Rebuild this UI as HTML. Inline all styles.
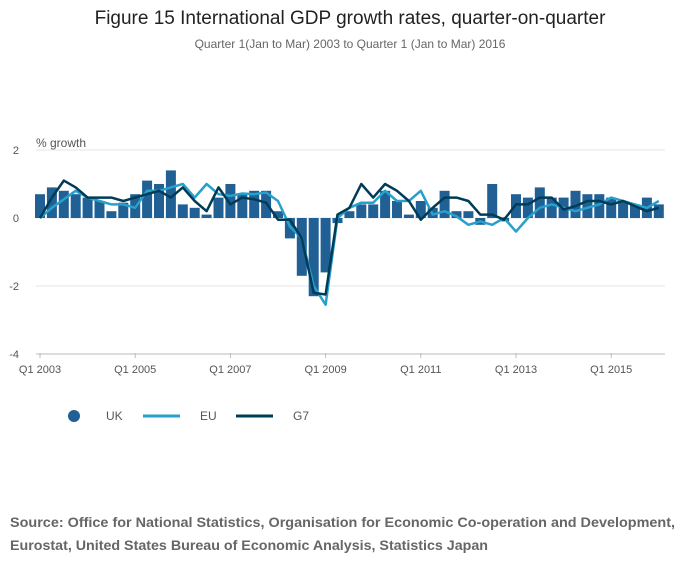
<!DOCTYPE html>
<html><head><meta charset="utf-8"><style>
body{margin:0;width:700px;height:574px;background:#fff;font-family:"Liberation Sans",sans-serif;overflow:hidden}
svg text{font-family:"Liberation Sans",sans-serif}
</style></head><body>
<svg width="700" height="574">
<text x="350" y="24" text-anchor="middle" font-size="19" fill="#222">Figure 15 International GDP growth rates, quarter-on-quarter</text>
<text x="350" y="48" text-anchor="middle" font-size="12" fill="#666">Quarter 1(Jan to Mar) 2003 to Quarter 1 (Jan to Mar) 2016</text>
<text x="36" y="147" font-size="12" fill="#555">% growth</text>
<g id="grid"></g><g id="bars"></g><g id="lines"></g><g id="xaxis"></g>
<g>
<circle cx="74" cy="416" r="6" fill="#206095"/>
<text x="106" y="420" font-size="12" fill="#555">UK</text>
<line x1="143" y1="416" x2="180" y2="416" stroke="#27a0cc" stroke-width="3"/>
<text x="200" y="420" font-size="12" fill="#555">EU</text>
<line x1="236" y1="416" x2="273" y2="416" stroke="#003c57" stroke-width="3"/>
<text x="293" y="420" font-size="12" fill="#555">G7</text>
</g>
<text x="10" y="527" font-size="14" font-weight="bold" fill="#666" textLength="665" lengthAdjust="spacingAndGlyphs">Source: Office for National Statistics, Organisation for Economic Co-operation and Development,</text>
<text x="10" y="550" font-size="14" font-weight="bold" fill="#666" textLength="478" lengthAdjust="spacingAndGlyphs">Eurostat, United States Bureau of Economic Analysis, Statistics Japan</text>
</svg>
<script>
const uk=[0.7,0.9,0.8,0.7,0.6,0.5,0.2,0.45,0.7,1.1,1.0,1.4,0.4,0.3,0.1,0.6,1.0,0.7,0.8,0.8,0.2,-0.6,-1.7,-2.3,-1.6,-0.15,0.2,0.4,0.4,0.8,0.5,0.1,0.5,0.3,0.8,0.2,0.2,-0.2,1.0,-0.1,0.7,0.6,0.9,0.6,0.6,0.8,0.7,0.7,0.6,0.5,0.4,0.6,0.4];
const eu=[0,0.3,0.55,0.8,0.6,0.5,0.4,0.4,0.3,0.8,0.8,0.9,1.0,0.6,1.0,0.7,0.65,0.72,0.7,0.75,0.5,-0.25,-0.6,-2.0,-2.55,0.0,0.3,0.45,0.45,0.8,0.5,0.5,0.8,0.1,0.2,0.05,-0.2,-0.1,-0.2,0.0,-0.4,0.0,0.3,0.4,0.3,0.2,0.3,0.4,0.6,0.5,0.4,0.3,0.5];
const g7=[0.0,0.6,1.1,0.9,0.6,0.6,0.6,0.5,0.6,0.7,0.8,0.6,0.9,0.5,0.2,0.9,0.4,0.6,0.55,0.45,-0.05,-0.05,-0.6,-2.2,-2.25,0.1,0.3,1.0,0.6,1.0,0.8,0.5,-0.05,0.3,0.6,0.6,0.5,0.1,0.1,-0.05,0.4,0.4,0.6,0.6,0.25,0.35,0.5,0.5,0.4,0.5,0.35,0.2,0.3];
const yTicks=[2,0,-2,-4];
const xLabels=["Q1 2003","Q1 2005","Q1 2007","Q1 2009","Q1 2011","Q1 2013","Q1 2015"];
const NS="http://www.w3.org/2000/svg";
const x0=40,step=11.9;
const X=i=>x0+i*step;
const Y=v=>218-v*34;
function mk(t,a,p){const e=document.createElementNS(NS,t);for(const k in a)e.setAttribute(k,a[k]);document.getElementById(p).appendChild(e);return e;}
yTicks.forEach(v=>{
 const l=mk('line',{x1:36,x2:665,y1:Y(v),y2:Y(v),stroke:v===-4?'#bbb':'#e4e4e4','stroke-width':1},'grid');
 
 
 const t=mk('text',{x:19,y:Y(v)+4,'text-anchor':'end','font-size':11,fill:'#555'},'grid');
 t.textContent=v;
 
 
});
uk.forEach((v,i)=>{
 const r=mk('rect',{x:X(i)-5,width:10,y:Math.min(Y(v),Y(0)),height:Math.abs(Y(v)-Y(0)),fill:'#206095'},'bars');
 
 
});
function line(d,c,n){
 const p=mk('polyline',{points:d.map((v,i)=>X(i)+','+Y(v)).join(' '),fill:'none',stroke:c,'stroke-width':2.5,'stroke-linejoin':'round'},'lines');
 
 
}
line(eu,'#27a0cc','line-eu');
line(g7,'#003c57','line-g7');
xLabels.forEach((s,k)=>{
 const i=k*8;
 const tk=mk('line',{x1:X(i),x2:X(i),y1:353,y2:358,stroke:'#bbb'},'xaxis');
 
 
 const t=mk('text',{x:X(i),y:373,'text-anchor':'middle','font-size':11,fill:'#555'},'xaxis');
 t.textContent=s;
 
 
});
</script>
</body></html>
